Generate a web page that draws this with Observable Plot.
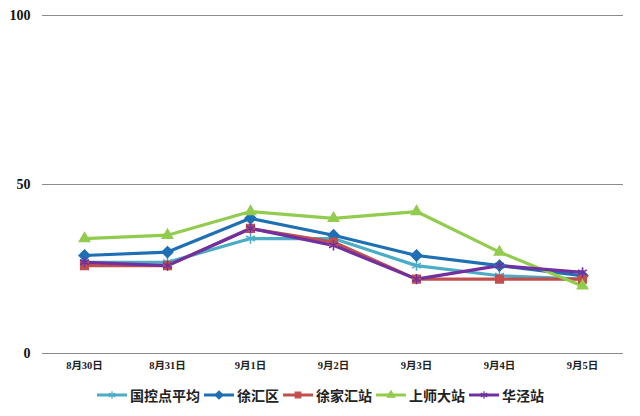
<!DOCTYPE html>
<html>
<head>
<meta charset="utf-8">
<script src="https://cdn.jsdelivr.net/npm/d3@7"></script>
<script src="https://cdn.jsdelivr.net/npm/@observablehq/plot@0.6"></script>
<style>
  html, body { margin: 0; padding: 0; background: #fff; }
  #chart { width: 640px; height: 416px; position: relative; }
  #legend { display: flex; justify-content: center; align-items: center; gap: 3px;
    font-family: "Noto Sans CJK SC", sans-serif; font-weight: bold; font-size: 14px; color: #222;
    height: 30px; margin-top: 0px; }
  .item { display: flex; align-items: center; }
  .item svg { margin-right: 2px; }
  .yax text { font-family: "Liberation Serif", "DejaVu Serif", serif; font-size: 14px; font-weight: bold; }
  .xax text { font-family: "Liberation Serif", "Noto Sans CJK SC", serif; font-size: 10.5px; font-weight: bold; }
</style>
</head>
<body>
<div id="chart"></div>
<script>
const dates = ["8月30日", "8月31日", "9月1日", "9月2日", "9月3日", "9月4日", "9月5日"];
const seriesNames = ["国控点平均", "徐汇区", "徐家汇站", "上师大站", "华泾站"];
const guokong   = [27, 27, 34, 34, 26, 23, 22];
const xuhuiqu   = [29, 30, 40, 35, 29, 26, 23];
const xujiahui  = [26, 26, 37, 33, 22, 22, 22];
const shangshida = [34, 35, 42, 40, 42, 30, 20];
const huajing   = [27, 26, 37, 32, 22, 26, 24];
const yTicks = [0, 50, 100];
const colors = ["#4bacc6", "#1f6fb4", "#c0504d", "#92cc4f", "#7030a0"];
const symbols = ["asterisk", "diamond2", "square2", "triangle2", "asterisk"];

const allValues = [guokong, xuhuiqu, xujiahui, shangshida, huajing];
const data = [];
seriesNames.forEach((s, i) => dates.forEach((d, j) => data.push({series: s, date: d, value: allValues[i][j]})));

const chart = Plot.plot({
  width: 640,
  height: 380,
  marginTop: 15,
  marginBottom: 27,
  marginLeft: 42,
  marginRight: 17,
  style: {background: "#fff"},
  x: {type: "point", domain: dates, padding: 0.5, label: null},
  y: {domain: [0, 100], label: null},
  color: {domain: seriesNames, range: colors},
  symbol: {domain: seriesNames, range: symbols},
  marks: [
    Plot.ruleY(yTicks, {stroke: "#8c8c8c", strokeWidth: 1.2}),
    Plot.axisY({ticks: yTicks, tickSize: 0, tickPadding: 12, fill: "#111", className: "yax"}),
    Plot.axisX({tickSize: 0, tickPadding: 8, fill: "#222", className: "xax"}),
    Plot.line(data, {x: "date", y: "value", z: "series", stroke: "series", strokeWidth: 3.2,
      strokeLinejoin: "round", strokeLinecap: "round"}),
    Plot.dot(data, {x: "date", y: "value", symbol: "series", fill: "series", stroke: "series",
      r: 4.8, strokeWidth: 1.6})
  ]
});
document.getElementById("chart").appendChild(chart);

// legend
const legend = document.createElement("div");
legend.id = "legend";
seriesNames.forEach((s, i) => {
  const item = document.createElement("div");
  item.className = "item";
  const sw = d3.create("svg").attr("width", 32).attr("height", 14);
  sw.append("line").attr("x1", 1).attr("x2", 31).attr("y1", 7).attr("y2", 7)
    .attr("stroke", colors[i]).attr("stroke-width", 3);
  const symType = {asterisk: d3.symbolAsterisk, diamond2: d3.symbolDiamond2, square2: d3.symbolSquare2, triangle2: d3.symbolTriangle2}[symbols[i]];
  sw.append("path").attr("transform", "translate(16,7)")
    .attr("d", d3.symbol(symType, 40)())
    .attr("fill", colors[i]).attr("stroke", colors[i]).attr("stroke-width", 1.2);
  item.appendChild(sw.node());
  const t = document.createElement("span");
  t.textContent = s;
  item.appendChild(t);
  legend.appendChild(item);
});
document.getElementById("chart").appendChild(legend);
</script>
</body>
</html>
